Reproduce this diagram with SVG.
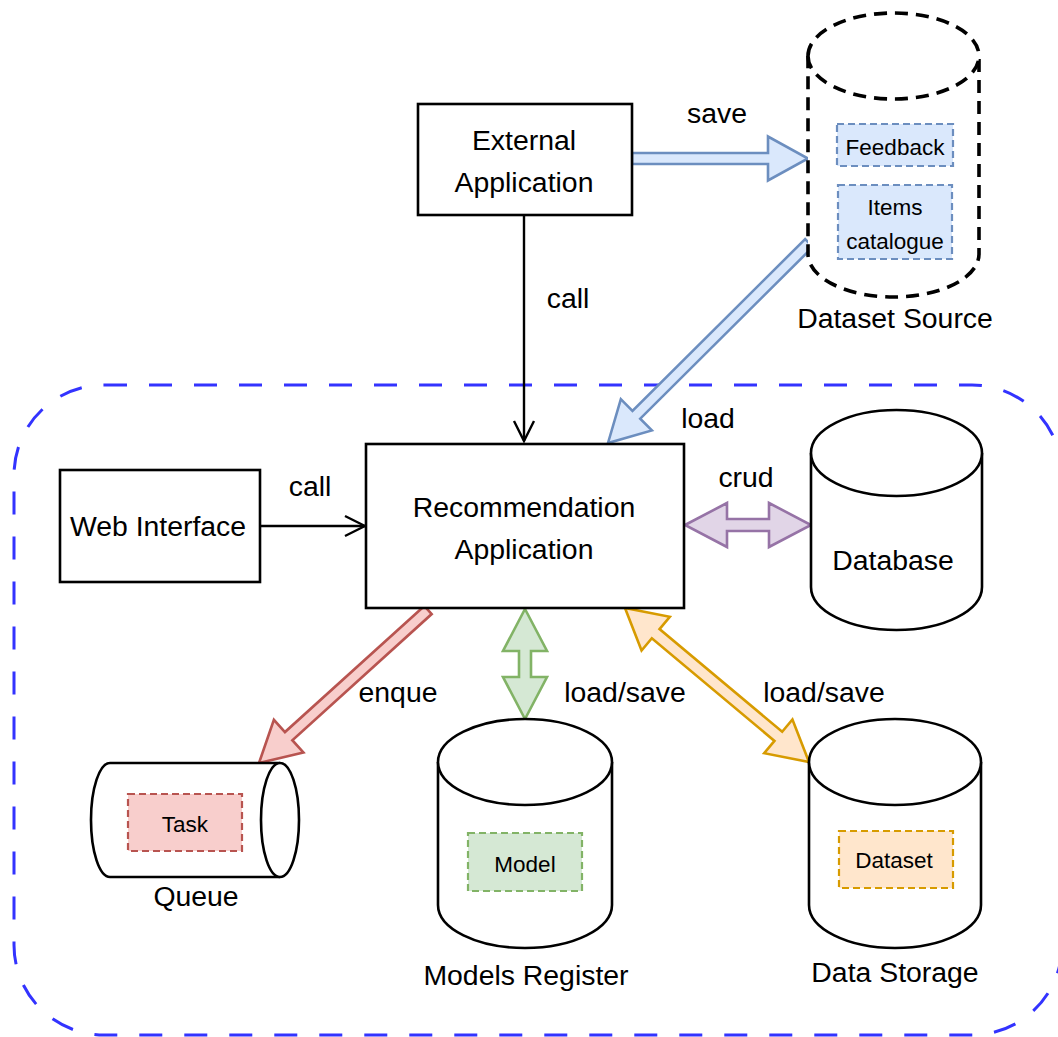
<svg xmlns="http://www.w3.org/2000/svg" width="1058" height="1037" viewBox="0 0 1058 1037">
  <defs>
    <style>
      text { font-family: "Liberation Sans", Arial, sans-serif; fill: #000; }
      .lg { font-size: 28.4px; }
      .sm { font-size: 22.5px; }
      .box { fill: #fff; stroke: #000; stroke-width: 2.6; }
      .cyl { fill: #fff; stroke: #000; stroke-width: 2.6; }
      .cyl-dash { fill: #fff; stroke: #000; stroke-width: 3.6; stroke-dasharray: 13 8; }
      .line { fill: none; stroke: #000; stroke-width: 2.4; }
      .tag { stroke-width: 2.2; stroke-dasharray: 7 4; }
      .blue { fill: #dae8fc; stroke: #6c8ebf; }
      .red { fill: #f8cecc; stroke: #b85450; }
      .green { fill: #d5e8d4; stroke: #82b366; }
      .orange { fill: #ffe6cc; stroke: #d79b00; }
      .purple { fill: #e1d5e7; stroke: #9673a6; }
      .fat { stroke-width: 2.6; stroke-linejoin: miter; }
    </style>
    <marker id="open" markerUnits="userSpaceOnUse" markerWidth="24" markerHeight="24" viewBox="-22 -12 24 24" refX="0" refY="0" orient="auto">
      <path d="M -20 -10 L 0 0 L -20 10" fill="none" stroke="#000" stroke-width="2.4"/>
    </marker>
  </defs>

  <!-- service boundary -->
  <rect id="boundary" x="14" y="385" width="1048" height="650" rx="90" ry="90" fill="none" stroke="#3333ff" stroke-width="3" stroke-dasharray="23 22"/>

  <!-- connectors -->
  <g id="connectors">
    <line class="line" x1="524" y1="215" x2="524" y2="441" marker-end="url(#open)"/>
    <line class="line" x1="260" y1="526" x2="365" y2="526" marker-end="url(#open)"/>
    <polygon class="blue fat" points="632,153 768,153 768,136.5 808,158.5 768,180.5 768,164 632,164"/>
    <polygon class="blue fat" points="805.12,239.1 632.47,410.89 620.84,399.2 608,443 651.86,430.38 640.23,418.69 812.88,246.9"/>
    <polygon class="red fat" points="424.31,605.92 284.96,732.08 273.89,719.85 259,763 303.41,752.47 292.34,740.24 431.69,614.08"/>
    <polygon class="purple fat" points="685,525 727,503 727,519 769,519 769,503 811,525 769,547 769,531 727,531 727,547"/>
    <polygon class="green fat" points="525,609 547,651 531,651 531,677 547,677 525,719 503,677 519,677 519,651 503,651"/>
    <polygon class="orange fat" points="625,608 641.56,650.54 651.83,638.27 774.47,740.93 764.2,753.2 809,762 792.44,719.46 782.17,731.73 659.53,629.07 669.8,616.8"/>
    <text class="lg" x="717" y="123" text-anchor="middle">save</text>
    <text class="lg" x="568" y="308" text-anchor="middle">call</text>
    <text class="lg" x="708" y="428" text-anchor="middle">load</text>
    <text class="lg" x="746" y="487" text-anchor="middle">crud</text>
    <text class="lg" x="310" y="496" text-anchor="middle">call</text>
    <text class="lg" x="398" y="702" text-anchor="middle">enque</text>
    <text class="lg" x="625" y="702" text-anchor="middle">load/save</text>
    <text class="lg" x="824" y="702" text-anchor="middle">load/save</text>
  </g>

  <!-- external caller -->
  <g id="external-application">
    <rect class="box" x="418" y="104" width="214" height="111"/>
    <text class="lg" x="524" y="150" text-anchor="middle">External</text>
    <text class="lg" x="524" y="192" text-anchor="middle">Application</text>
  </g>

  <!-- dataset source (external storage) -->
  <g id="dataset-source">
    <path class="cyl-dash" d="M 808,56 A 85.5 43 0 0 1 979,56 L 979,254 A 85.5 43 0 0 1 808,254 Z"/>
    <path class="cyl-dash" fill="none" d="M 808,56 A 85.5 43 0 0 0 979,56"/>
    <rect class="blue tag" x="837" y="124" width="116" height="42"/>
    <text class="sm" x="895" y="155" text-anchor="middle">Feedback</text>
    <rect class="blue tag" x="838" y="185" width="114" height="74"/>
    <text class="sm" x="895" y="215" text-anchor="middle">Items</text>
    <text class="sm" x="895" y="249" text-anchor="middle">catalogue</text>
    <text class="lg" x="895" y="328" text-anchor="middle">Dataset Source</text>
  </g>

  <g id="web-interface">
    <rect class="box" x="60" y="470" width="200" height="112"/>
    <text class="lg" x="158" y="536" text-anchor="middle">Web Interface</text>
  </g>

  <g id="recommendation-application">
    <rect class="box" x="366" y="444" width="318" height="164"/>
    <text class="lg" x="524" y="517" text-anchor="middle">Recommendation</text>
    <text class="lg" x="524" y="559" text-anchor="middle">Application</text>
  </g>

  <g id="database">
    <path class="cyl" d="M 811,453 A 85.5 43 0 0 1 982,453 L 982,587 A 85.5 43 0 0 1 811,587 Z"/>
    <path class="cyl" fill="none" d="M 811,453 A 85.5 43 0 0 0 982,453"/>
    <text class="lg" x="893" y="570" text-anchor="middle">Database</text>
  </g>

  <g id="queue">
    <path class="cyl" d="M 110,763 L 280,763 A 19 57 0 0 1 280,877 L 110,877 A 19 57 0 0 1 110,763 Z"/>
    <path class="cyl" fill="none" d="M 280,763 A 19 57 0 0 0 280,877"/>
    <rect class="red tag" x="128" y="794" width="114" height="57"/>
    <text class="sm" x="185" y="832" text-anchor="middle">Task</text>
    <text class="lg" x="196" y="906" text-anchor="middle">Queue</text>
  </g>

  <g id="models-register">
    <path class="cyl" d="M 438,762 A 87 43 0 0 1 612,762 L 612,905 A 87 43 0 0 1 438,905 Z"/>
    <path class="cyl" fill="none" d="M 438,762 A 87 43 0 0 0 612,762"/>
    <rect class="green tag" x="468" y="833" width="114" height="58"/>
    <text class="sm" x="525" y="872" text-anchor="middle">Model</text>
    <text class="lg" x="526" y="985" text-anchor="middle">Models Register</text>
  </g>

  <g id="data-storage">
    <path class="cyl" d="M 809,762 A 86 43 0 0 1 981,762 L 981,905 A 86 43 0 0 1 809,905 Z"/>
    <path class="cyl" fill="none" d="M 809,762 A 86 43 0 0 0 981,762"/>
    <rect class="orange tag" x="839" y="831" width="114" height="57"/>
    <text class="sm" x="894" y="868" text-anchor="middle">Dataset</text>
    <text class="lg" x="895" y="982" text-anchor="middle">Data Storage</text>
  </g>
</svg>
